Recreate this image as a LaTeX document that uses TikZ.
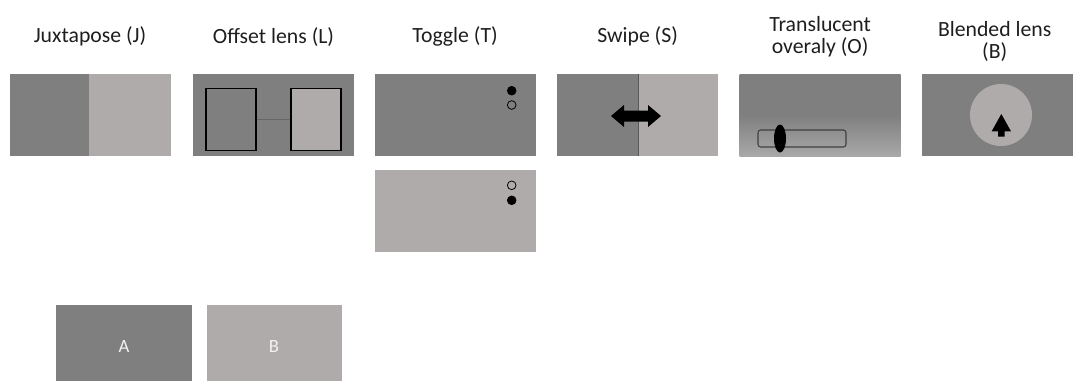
\documentclass[tikz,border=0pt]{standalone}
\usepackage{fontspec}
\setmainfont{Carlito}
\usetikzlibrary{positioning, shapes.geometric}
\definecolor{imgdark}{RGB}{127,127,127}
\definecolor{imglight}{RGB}{175,171,171}
\definecolor{imgfade}{RGB}{168,168,168}
\definecolor{ink}{RGB}{30,30,30}
\definecolor{paper}{RGB}{242,242,242}
\tikzstyle{heading} = [align=center, text=ink, inner sep=0pt, font=\fontsize{16.3}{16.5}\selectfont]
\tikzstyle{panel} = [rectangle, minimum width=120.75pt, minimum height=61.5pt, inner sep=0pt]
\tikzstyle{darkimg} = [fill=imgdark]
\tikzstyle{lightimg} = [fill=imglight]
\tikzstyle{lens} = [rectangle, minimum width=37.5pt, minimum height=46.5pt, inner sep=0pt, draw=black, line width=1.2pt]
\tikzstyle{link} = [draw=black!60, line width=0.6pt]
\tikzstyle{toggledot} = [circle, minimum size=6.5pt, inner sep=0pt, draw=black, line width=0.6pt]
\tikzstyle{divider} = [draw=black!65, line width=0.75pt]
\tikzstyle{track} = [rectangle, rounded corners=2pt, minimum width=66pt, minimum height=12.75pt, inner sep=0pt, draw=black!75, line width=0.8pt]
\tikzstyle{knob} = [ellipse, minimum width=9pt, minimum height=21pt, inner sep=0pt, fill=black]
\tikzstyle{source} = [panel, minimum width=102pt, text=paper, font=\fontsize{14}{14}\selectfont]

\begin{document}
\begin{tikzpicture}
[x=0.75pt, y=-0.75pt, node distance=15.75pt]

\path [use as bounding box, clip] (0,0) rectangle (1073,380);

\node (panelJ) [panel, lightimg] at (90,115) {};
\node (halfJ) [panel, darkimg, minimum width=59.25pt, anchor=west] at (panelJ.west) {};
\node (panelL) [panel, darkimg, right=16.5pt of panelJ] {};
\node (panelT) [panel, darkimg, right=15pt of panelL] {};
\node (panelTb) [panel, lightimg, below=9.75pt of panelT] {};
\node (panelS) [panel, lightimg, right=of panelT] {};
\node (halfS) [panel, darkimg, minimum width=60.5pt, anchor=west] at (panelS.west) {};
\node (panelO) [panel, top color=imgdark, bottom color=imgfade, middle color=imgdark, right=of panelS] {};
\node (panelB) [panel, darkimg, right=of panelO] {};

\node (capJ) [heading, above=20.25pt of panelJ] {Juxtapose (J)};
\node (capL) [heading, above=20.25pt of panelL] {Offset lens (L)};
\node (capT) [heading, above=20.25pt of panelT] {Toggle (T)};
\node (capS) [heading, above=20.25pt of panelS] {Swipe (S)};
\node (capO) [heading, above=12pt of panelO] {Translucent\\overaly (O)};
\node (capB) [heading, above=9.25pt of panelB, xshift=-6pt] {Blended lens\\(B)};

\node (lensL) [lens, darkimg] at (231,119.5) {};
\node (lensR) [lens, lightimg] at (316,119.5) {};
\draw [link] (lensL) -- (lensR);

\node (onT) [toggledot, fill=black] at (511.7,90.7) {};
\node (offT) [toggledot] at (511.7,105) {};
\node (offTb) [toggledot] at (511.7,185.3) {};
\node (onTb) [toggledot, fill=black] at (511.7,200.3) {};

\draw [divider] (halfS.north east) -- (halfS.south east);
\fill [black] (611,116) -- (624,105) -- (624,110.5) -- (648,110.5) -- (648,105) -- (661,116)
  -- (648,127) -- (648,121.5) -- (624,121.5) -- (624,127) -- cycle;

\node (track) [track] at (802,138.5) {};
\node (knob) [knob] at (780,138.5) {};

\node (lensB) [circle, fill=imglight, minimum size=46.5pt, inner sep=0pt] at (1001,115) {};
\fill [black] (1001.3,114) -- (1011,131.3) -- (1004.5,131.3) -- (1004.5,136.7) -- (998,136.7)
  -- (998,131.3) -- (991.7,131.3) -- cycle;

\node (srcA) [source, darkimg] at (124,346) {A};
\node (srcB) [source, lightimg, minimum width=101.25pt, right=10.5pt of srcA] {B};

\end{tikzpicture}
\end{document}
